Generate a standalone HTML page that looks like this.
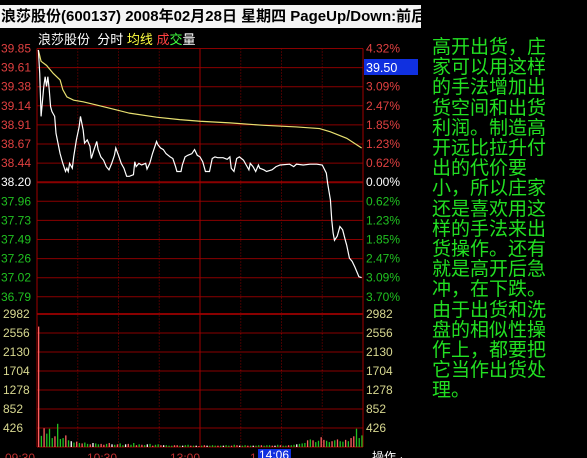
<!DOCTYPE html>
<html><head><meta charset="utf-8"><style>
html,body{margin:0;padding:0;background:#000;width:587px;height:458px;overflow:hidden}
#title{position:absolute;left:0;top:5px;width:420px;height:23px;background:#f4f4f4;color:#000;font:bold 15px "Liberation Sans","Noto Sans CJK SC",sans-serif;line-height:23px;white-space:nowrap;overflow:hidden;padding-left:1px}
#note{position:absolute;left:432px;top:38px;width:155px;color:#22e022;font:19px "Liberation Sans","Noto Sans CJK SC",sans-serif;line-height:20.2px;white-space:pre}
svg{position:absolute;left:0;top:0}
</style></head><body>
<div id="title">浪莎股份(600137) 2008年02月28日 星期四 PageUp/Down:前后</div>
<svg id="c" width="420" height="458"></svg>
<div id="note">高开出货，庄
家可以用这样
的手法增加出
货空间和出货
利润。制造高
开远比拉升付
出的代价要
小，所以庄家
还是喜欢用这
样的手法来出
货操作。还有
就是高开后急
冲，在下跌。
由于出货和洗
盘的相似性操
作上，都要把
它当作出货处
理。</div>
<script>
const priceTicks=["39.85","39.61","39.38","39.14","38.91","38.67","38.44","38.20","37.96","37.73","37.49","37.26","37.02","36.79"];
const pctTicks=["4.32%","3.70%","3.09%","2.47%","1.85%","1.23%","0.62%","0.00%","0.62%","1.23%","1.85%","2.47%","3.09%","3.70%"];
const volTicks=["2982","2556","2130","1704","1278","852","426"];
const priceMin=[1,2,3,5,6,7,8,9,10,11,13,14,17,19,21,22,23,24,26,27,29,31,32,34,35,37,39,40,42,44,45,47,49,51,53,55,57,58,60,62,64,66,68,71,72,73,75,77,80,81,83,85,88,89,91,93,95,98,100,102,103,106,107,109,111,114,116,118,120,122,124,127,129,131,133,137,140,142,143,145,147,149,152,154,156,157,159,161,163,164,167,169,173,176,179,186,189,191,196,201,206,210,213,214,216,217,218,219,221,223,225,227,228,230,232,234,237,239];
const prices=[39.83,39.54,39.01,39.38,39.50,39.38,39.50,39.34,39.13,39.07,39.01,38.80,38.55,38.43,38.33,38.37,38.33,38.43,38.37,38.51,38.72,38.88,39.01,38.84,38.68,38.72,38.64,38.49,38.60,38.70,38.60,38.51,38.47,38.39,38.35,38.43,38.53,38.62,38.53,38.43,38.37,38.27,38.27,38.29,38.45,38.39,38.43,38.41,38.43,38.36,38.43,38.55,38.70,38.66,38.62,38.60,38.55,38.51,38.49,38.39,38.33,38.33,38.41,38.51,38.53,38.55,38.60,38.53,38.51,38.45,38.33,38.33,38.49,38.51,38.50,38.50,38.48,38.51,38.37,38.33,38.49,38.51,38.47,38.41,38.35,38.43,38.39,38.33,38.41,38.37,38.35,38.33,38.35,38.39,38.41,38.42,38.39,38.42,38.41,38.42,38.42,38.41,38.31,38.18,37.98,37.73,37.57,37.48,37.53,37.65,37.61,37.48,37.42,37.26,37.22,37.15,37.03,37.02];
const avgMin=[1,3,7,12,17,19,22,27,34,44,56,68,88,105,120,142,167,191,208,216,228,239];
const avgPrices=[39.83,39.69,39.64,39.54,39.46,39.34,39.25,39.21,39.19,39.15,39.10,39.05,39.00,38.97,38.95,38.93,38.90,38.88,38.86,38.82,38.74,38.62];
const volumes=[2700,250,420,300,410,200,240,520,180,200,260,150,130,100,120,90,80,100,70,60,90,80,60,70,50,70,90,60,50,60,80,40,60,70,50,90,40,60,50,40,60,70,30,50,60,40,40,40,30,30,40,40,30,30,40,50,30,30,30,20,30,40,30,30,40,30,30,30,30,40,30,30,50,40,30,30,40,30,30,30,30,40,40,30,40,40,30,30,50,40,30,30,40,40,50,60,70,80,90,150,170,150,110,140,220,160,140,110,130,150,170,130,120,160,130,200,240,410,200,260];
const volColors="rgrgggrgggrgwgrgrggrwggrrgrwgrggwrggrgrgwgrggrwgggrrgwggrgwrgrwgggrgwggrgrwggrgwggrgggrwgrggrggwgggrgrggrrggrgrggrgrr";
const timeLabels=["09:30","10:30","13:00"];

const NS="http://www.w3.org/2000/svg",svg=document.getElementById('c');
const X0=37,X1=363,PTOP=48.5,ROW=19.1,BASE=38.20,BASEY=182,PPU=81.0,VBOT=447,VPU=19/426;
const xm=m=>X0+m*(X1-X0)/240, yp=p=>BASEY-(p-BASE)*PPU, yv=v=>VBOT-v*VPU;
function mk(t,a,parent){const e=document.createElementNS(NS,t);for(const k in a)e.setAttribute(k,a[k]);(parent||svg).appendChild(e);return e;}
const F='"Liberation Sans","Noto Sans CJK SC",sans-serif';
const hd=mk('text',{x:38,y:44,fill:'#fff','font-size':13,'font-family':F});


hd.innerHTML='浪莎股份 &#160;分时 <tspan fill="#ffff40">均线</tspan> <tspan fill="#ff4040">成</tspan><tspan fill="#40ff40">交</tspan>量';
priceTicks.forEach((t,i)=>{const y=PTOP+i*ROW;
 const l=mk('line',{x1:X0,x2:X1,y1:y,y2:y,stroke:'#8a0000','stroke-width':i==7?2:1});
 
 
 const col=i<7?'#e04040':(i==7?'#ffffff':'#20c020');
 const a=mk('text',{x:1,y:y+4,fill:col,'font-size':12,'font-family':F});a.textContent=t;
 
 
 const b=mk('text',{x:366,y:y+4,fill:col,'font-size':12,'font-family':F});b.textContent=pctTicks[i];
 
 
});
volTicks.forEach((t,i)=>{const v=2982-i*426;const y=yv(v);
 const l=mk('line',{x1:X0,x2:X1,y1:y,y2:y,stroke:'#8a0000','stroke-width':i==0?2:1});
 
 
 const a=mk('text',{x:3,y:y+4,fill:'#d8d890','font-size':12,'font-family':F});a.textContent=t;
 
 
 const b=mk('text',{x:366,y:y+4,fill:'#d8d890','font-size':12,'font-family':F});b.textContent=t;
 
 
});
for(let k=0;k<=8;k++){const x=X0+k*(X1-X0)/8;const solid=k%4==0;
 const l=mk('line',{x1:x,x2:x,y1:PTOP,y2:VBOT,stroke:solid?'#a00000':'#8a0000','stroke-width':1,'stroke-dasharray':solid?'':'1,2'});
 
 
}
mk('line',{x1:X0,x2:X1,y1:VBOT,y2:VBOT,stroke:'#a00000'});
const bx=mk('rect',{x:364,y:59,width:54,height:16,fill:'#1030e0'});


const bt=mk('text',{x:366,y:72,fill:'#fff','font-size':12.5,'font-family':F});bt.textContent='39.50';


const cmap={r:'#ff6060',g:'#20c020',w:'#ffffff'};
volumes.forEach((v,i)=>{const x=xm(i*240/volumes.length)+1;
 const r=mk('rect',{x:x,y:yv(v),width:1.3,height:VBOT-yv(v),fill:cmap[volColors[i]||'g']});
 
 
});
const ap=mk('polyline',{points:avgMin.map((m,i)=>xm(m)+','+yp(avgPrices[i])).join(' '),fill:'none',stroke:'#e8e070','stroke-width':1.2});


const pl=mk('polyline',{points:priceMin.map((m,i)=>xm(m)+','+yp(prices[i])).join(' '),fill:'none',stroke:'#ffffff','stroke-width':1.2});


const tlx=[5,87,170];
timeLabels.forEach((t,i)=>{const a=mk('text',{x:tlx[i],y:462,fill:'#c03030','font-size':12,'font-family':F});a.textContent=t;
 
 });
const t1=mk('text',{x:250,y:462,fill:'#c03030','font-size':12,'font-family':F});t1.textContent='1';


const tb=mk('rect',{x:258,y:449,width:33,height:12,fill:'#1030e0'});


const tt=mk('text',{x:259,y:459,fill:'#fff','font-size':12,'font-family':F});tt.textContent='14:06';


const op=mk('text',{x:372,y:461,fill:'#fff','font-size':12,'font-family':F});op.textContent='操作 ·';


</script>
</body></html>
